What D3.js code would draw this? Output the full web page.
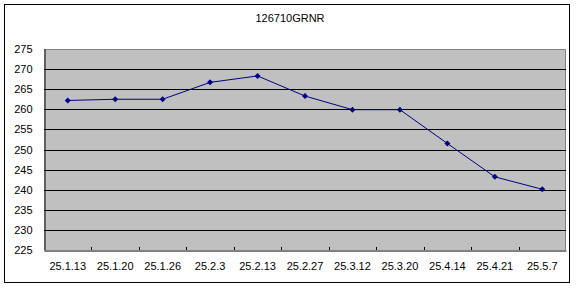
<!DOCTYPE html>
<html>
<head>
<meta charset="utf-8">
<script src="https://cdn.jsdelivr.net/npm/d3@7"></script>
<style>
body { margin: 0; background: #fff; }
svg { display: block; font-family: "Liberation Sans", Arial, sans-serif; }
</style>
</head>
<body>
<div id="chart"></div>
<script>
let title = '126710GRNR'

let dates = ['25.1.13', '25.1.20', '25.1.26', '25.2.3', '25.2.13', '25.2.27', '25.3.12', '25.3.20', '25.4.14', '25.4.21', '25.5.7']

let prices = [262.2, 262.5, 262.5, 266.7, 268.3, 263.3, 259.9, 259.9, 251.5, 243.2, 240.1]

let yTicks = [225, 230, 235, 240, 245, 250, 255, 260, 265, 270, 275]

let width = 578
let height = 288

let plot = {left: 44, right: 566, top: 49, bottom: 250}

const svg = d3.select('#chart')
	.append('svg')
	.attr('width', width)
	.attr('height', height)

// outer frame
svg.append('rect')
	.attr('x', 4.5)
	.attr('y', 4.5)
	.attr('width', 565)
	.attr('height', 278)
	.attr('fill', 'white')
	.attr('stroke', 'black')
	.attr('stroke-width', 1)

let xScale = d3.scaleBand()
	.domain(dates)
	.range([plot.left, plot.right])

let yScale = d3.scaleLinear()
	.domain([225, 275])
	.range([plot.bottom, plot.top])

svg.append('rect')
	.attr('x', plot.left)
	.attr('y', plot.top)
	.attr('width', plot.right - plot.left)
	.attr('height', plot.bottom - plot.top)
	.attr('fill', '#C0C0C0')

// plot border top/right in grey
svg.append('path')
	.attr('d', `M${plot.left},${plot.top + 0.5}H${plot.right - 0.5}V${plot.bottom}`)
	.attr('fill', 'none')
	.attr('stroke', '#808080')

svg.selectAll('.grid')
	.data(yTicks.filter(d => d > 225 && d < 275))
	.enter()
	.append('line')
	.attr('class', 'grid')
	.attr('x1', plot.left)
	.attr('x2', plot.right)
	.attr('y1', d => Math.round(yScale(d)) + 0.5)
	.attr('y2', d => Math.round(yScale(d)) + 0.5)
	.attr('stroke', 'black')

let xAxis = g => g.attr('transform', `translate(0,${plot.bottom + 0.5})`)
	.call(d3.axisBottom(xScale).tickSize(0).tickPadding(12))

let yAxis = g => g.attr('transform', `translate(${plot.left + 0.5},0)`)
	.call(d3.axisLeft(yScale).tickValues(yTicks).tickSize(0).tickPadding(12))

let xG = svg.append('g').call(xAxis)
xG.select('.domain').attr('stroke', 'black')
xG.selectAll('text').attr('fill', 'black').attr('font-size', 11).attr('font-family', '"Liberation Sans", Arial, sans-serif')

// category boundary ticks
svg.selectAll('.xtick')
	.data(dates.slice(1))
	.enter()
	.append('line')
	.attr('class', 'xtick')
	.attr('x1', d => Math.round(xScale(d)) + 0.5)
	.attr('x2', d => Math.round(xScale(d)) + 0.5)
	.attr('y1', plot.bottom - 3)
	.attr('y2', plot.bottom)
	.attr('stroke', 'black')

let yG = svg.append('g').call(yAxis)
yG.select('.domain').attr('stroke', 'black')
yG.selectAll('text').attr('fill', 'black').attr('font-size', 11).attr('font-family', '"Liberation Sans", Arial, sans-serif')

let line = d3.line()
	.x((d, i) => xScale(dates[i]) + xScale.bandwidth() / 2)
	.y(d => yScale(d))

svg.append('path')
	.datum(prices)
	.attr('d', line)
	.attr('fill', 'none')
	.attr('stroke', '#000080')
	.attr('stroke-width', 1)

svg.selectAll('.pt')
	.data(prices)
	.enter()
	.append('path')
	.attr('class', 'pt')
	.attr('transform', (d, i) => `translate(${xScale(dates[i]) + xScale.bandwidth() / 2},${yScale(d)})`)
	.attr('d', 'M0,-3L3,0L0,3L-3,0Z')
	.attr('fill', '#000080')

svg.append('text')
	.attr('x', 290)
	.attr('y', 22)
	.attr('text-anchor', 'middle')
	.attr('font-size', 11)
	.attr('fill', 'black')
	.text(title)
</script>
</body>
</html>
